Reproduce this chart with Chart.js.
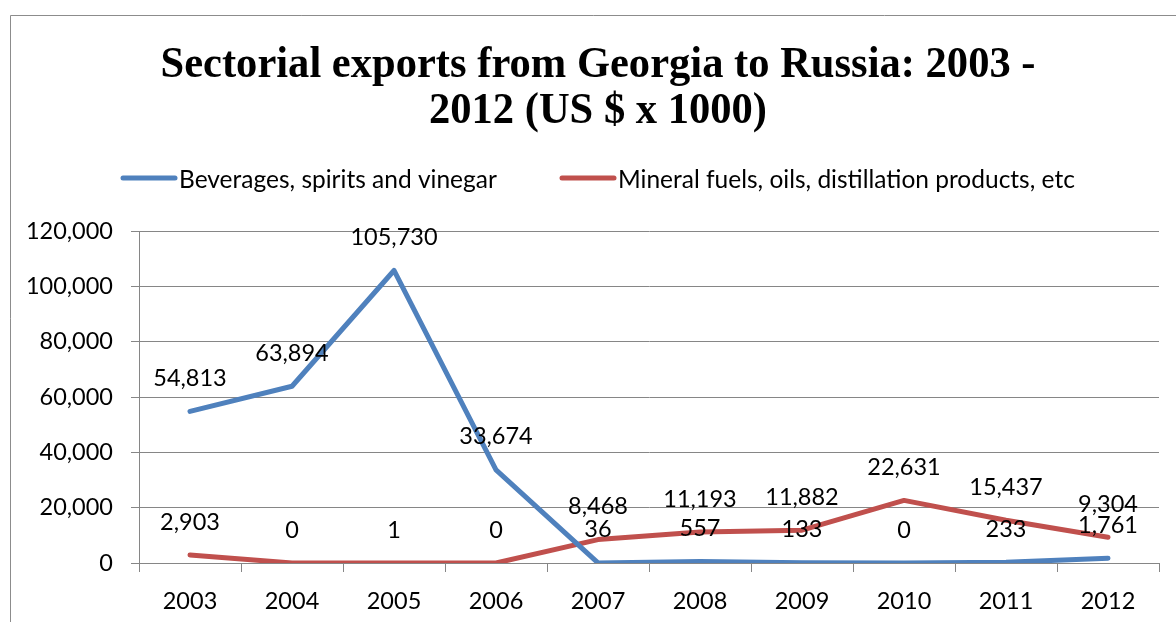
<!DOCTYPE html>
<html lang="en">
<head>
    <meta charset="UTF-8">
    <title>Sectorial exports from Georgia to Russia</title>
    <script src="https://cdn.jsdelivr.net/npm/chart.js"></script>
    <style>
        html, body { margin: 0; padding: 0; background: #fff; }
        #wrap { width: 1176px; height: 622px; position: relative; }
    </style>
</head>
<body>
    <div id="wrap"><canvas id="myChart"></canvas></div>
    <script>
        const years = ['2003', '2004', '2005', '2006', '2007', '2008', '2009', '2010', '2011', '2012'];
        const beverages = [54813, 63894, 105730, 33674, 36, 557, 133, 0, 233, 1761];
        const mineralFuels = [2903, 0, 1, 0, 8468, 11193, 11882, 22631, 15437, 9304];
        const yTicks = [0, 20000, 40000, 60000, 80000, 100000, 120000];

        const titleLines = ['Sectorial exports from Georgia to Russia: 2003 -', '2012 (US $ x 1000)'];
        const gridColor = '#868686';
        const textFont = 'Lato, "Open Sans", sans-serif';

        // frame, title and legend drawn straight on the canvas
        const decorations = {
            id: 'decorations',
            beforeDraw(chart) {
                const ctx = chart.ctx;
                ctx.save();
                ctx.fillStyle = '#fff';
                ctx.fillRect(0, 0, chart.width, chart.height);
                ctx.strokeStyle = '#8c8c8c';
                ctx.lineWidth = 1;
                ctx.beginPath();
                ctx.moveTo(10.5, chart.height);
                ctx.lineTo(10.5, 15.5);
                ctx.lineTo(chart.width, 15.5);
                ctx.stroke();
                ctx.restore();
            },
            afterDraw(chart) {
                const ctx = chart.ctx;
                ctx.save();
                // title, slightly condensed
                ctx.fillStyle = '#000';
                ctx.font = 'bold 44px "Liberation Serif", "Times New Roman", serif';
                ctx.textAlign = 'center';
                ctx.textBaseline = 'alphabetic';
                const widths = [875, 338];
                titleLines.forEach((line, i) => {
                    const w = ctx.measureText(line).width;
                    const sx = widths[i] / w;
                    ctx.save();
                    ctx.translate(598, 77 + i * 46);
                    ctx.scale(sx, 1);
                    ctx.fillText(line, 0, 0);
                    ctx.restore();
                });

                // legend
                const starts = [121, 560];
                ctx.font = '24.5px ' + textFont;
                ctx.textAlign = 'left';
                ctx.textBaseline = 'middle';
                chart.data.datasets.forEach((ds, i) => {
                    const x = starts[i];
                    ctx.strokeStyle = ds.borderColor;
                    ctx.lineWidth = 5;
                    ctx.lineCap = 'round';
                    ctx.beginPath();
                    ctx.moveTo(x + 2, 178);
                    ctx.lineTo(x + 54, 178);
                    ctx.stroke();
                    ctx.fillStyle = '#000';
                    ctx.fillText(ds.label, x + 58, 180);
                });
                ctx.restore();
            }
        };

        // value labels above every point
        const valueLabels = {
            id: 'valueLabels',
            afterDatasetsDraw(chart) {
                const ctx = chart.ctx;
                ctx.save();
                ctx.font = '23.5px ' + textFont;
                ctx.fillStyle = '#000';
                ctx.textAlign = 'center';
                ctx.textBaseline = 'middle';
                chart.data.datasets.forEach((ds, i) => {
                    chart.getDatasetMeta(i).data.forEach((pt, j) => {
                        ctx.fillText(ds.data[j].toLocaleString('en-US'), pt.x, pt.y - 33);
                    });
                });
                ctx.restore();
            }
        };

        const ctx = document.getElementById('myChart').getContext('2d');
        const myChart = new Chart(ctx, {
            type: 'line',
            data: {
                labels: years,
                datasets: [
                    {
                        label: 'Beverages, spirits and vinegar',
                        data: beverages,
                        borderColor: '#4f81bd',
                        borderWidth: 5,
                        borderCapStyle: 'round',
                        borderJoinStyle: 'round',
                        pointRadius: 0,
                        fill: false,
                        tension: 0
                    },
                    {
                        label: 'Mineral fuels, oils, distillation products, etc',
                        data: mineralFuels,
                        borderColor: '#c0504d',
                        borderWidth: 5,
                        borderCapStyle: 'round',
                        borderJoinStyle: 'round',
                        pointRadius: 0,
                        fill: false,
                        tension: 0
                    }
                ]
            },
            options: {
                responsive: true,
                maintainAspectRatio: false,
                animation: false,
                layout: { padding: { left: 0, right: 17, top: 231, bottom: 0 } },
                plugins: {
                    legend: { display: false },
                    title: { display: false },
                    tooltip: { enabled: false }
                },
                scales: {
                    x: {
                        offset: true,
                        grid: {
                            offset: true,
                            drawOnChartArea: false,
                            color: gridColor,
                            tickLength: 9
                        },
                        border: { color: gridColor, width: 1 },
                        ticks: {
                            color: '#000',
                            font: { family: textFont, size: 23.5 },
                            padding: 15,
                            maxRotation: 0
                        },
                        afterFit(scale) { scale.height = 59; }
                    },
                    y: {
                        min: 0,
                        max: 120000,
                        afterBuildTicks(scale) {
                            scale.ticks = yTicks.map(v => ({ value: v }));
                        },
                        grid: { color: gridColor, tickLength: 8, lineWidth: 1 },
                        border: { color: gridColor, width: 1 },
                        ticks: {
                            color: '#000',
                            font: { family: textFont, size: 23.5 },
                            padding: 18,
                            callback: v => v.toLocaleString('en-US')
                        },
                        afterFit(scale) { scale.width = 139; }
                    }
                }
            },
            plugins: [decorations, valueLabels]
        });
    </script>
</body>
</html>
